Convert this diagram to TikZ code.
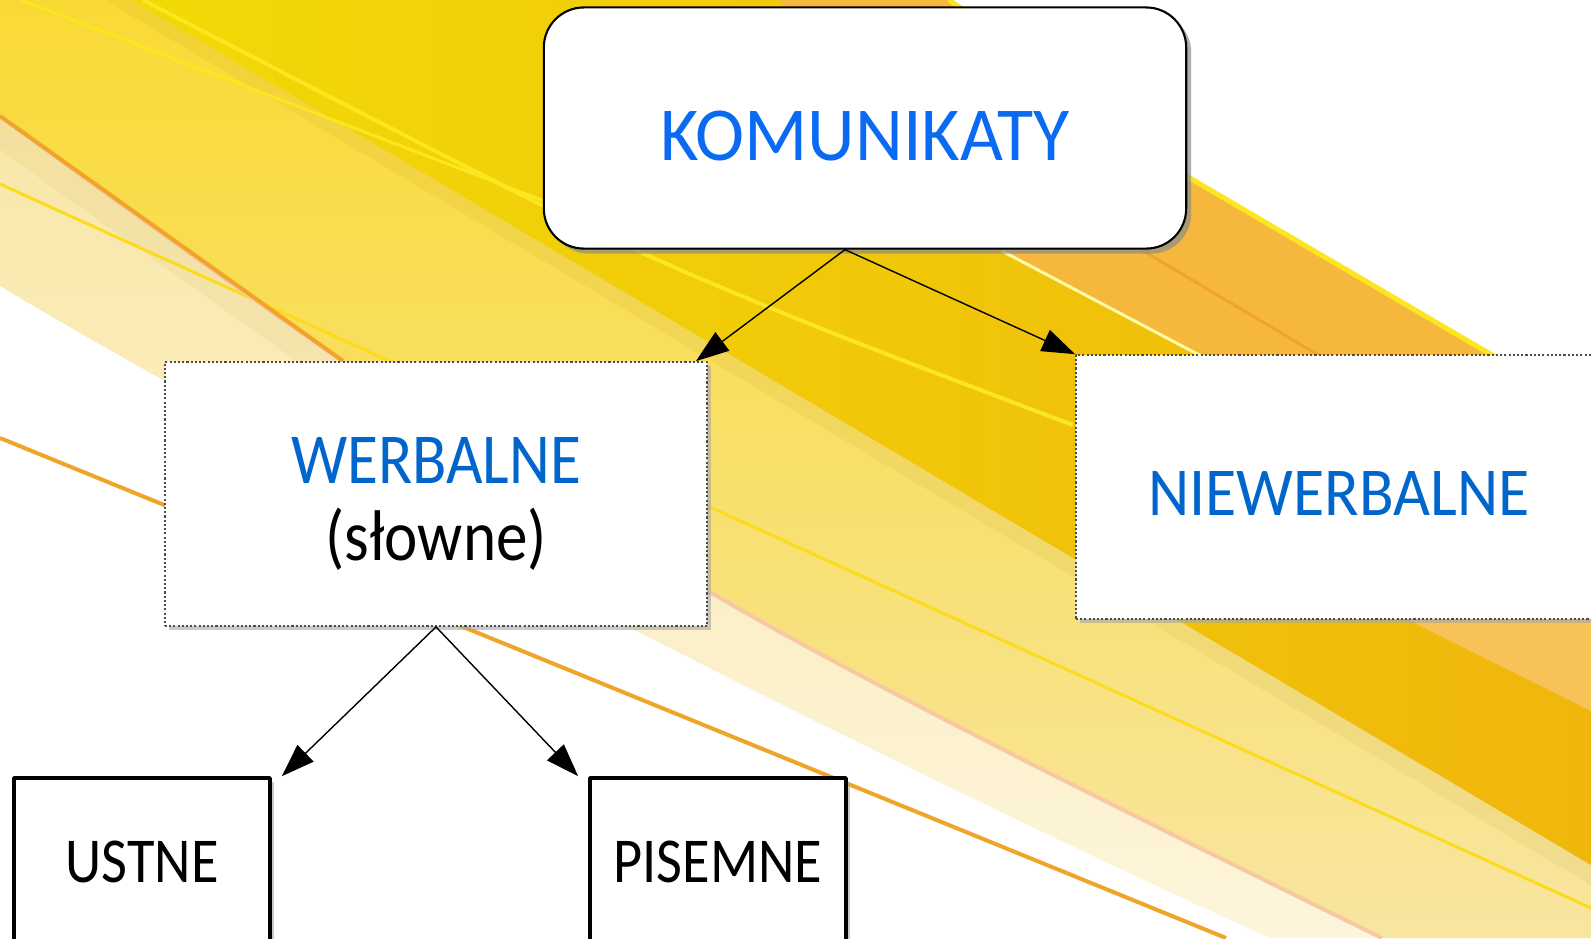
\documentclass[tikz,border=0pt]{standalone}
\usepackage{fontspec}
\newfontfamily\slidefont{Carlito}[FakeStretch=0.88]
\newfontfamily\rootfont{Carlito}[FakeStretch=0.97]
\newfontfamily\widefont{Carlito}[FakeStretch=0.93]
\usepackage{xcolor}
\usetikzlibrary{arrows.meta,shadows}

\definecolor{lemon}{HTML}{F1DA06}
\definecolor{sunny}{HTML}{F9DA34}
\definecolor{paleyel}{HTML}{F8E5A0}
\definecolor{cream}{HTML}{FDF5DC}
\definecolor{gold}{HTML}{F0B60C}
\definecolor{amber}{HTML}{F5B83C}
\definecolor{edgeorange}{HTML}{F0A42A}
\definecolor{peach}{HTML}{F7C8A2}
\definecolor{glint}{HTML}{FBE620}
\definecolor{foldshade}{HTML}{A07810}
\definecolor{rootblue}{HTML}{0A6AF2}
\definecolor{catblue}{HTML}{0066CC}

\begin{document}
\begin{tikzpicture}[
    x=0.01cm,
    y=-0.01cm,
    >={Triangle[length=3.3mm,width=2.3mm]},
    line join=round,
    font=\slidefont,
    rootbox/.style={draw=black, line width=0.6pt, fill=white, rounded corners=0.4cm, minimum width=6.42cm, minimum height=2.41cm, inner sep=0pt, text=rootblue, font=\rootfont\fontsize{21.7}{26}\selectfont, drop shadow={shadow xshift=0.5mm, shadow yshift=-0.5mm, fill=black!45, opacity=0.7}},
    catbox/.style={draw=black!70, line width=0.45pt, dash pattern=on 0.6pt off 0.6pt, fill=white, minimum height=2.64cm, inner sep=0pt, align=center, font=\slidefont\fontsize{20.4}{22}\selectfont, drop shadow={shadow xshift=0.4mm, shadow yshift=-0.4mm, fill=black!35, opacity=0.6}},
    leafbox/.style={draw=black, line width=1pt, fill=white, minimum width=2.56cm, minimum height=1.68cm, inner sep=0pt, font=\slidefont\fontsize{18.2}{22}\selectfont, drop shadow={shadow xshift=0.4mm, shadow yshift=-0.4mm, fill=black!35, opacity=0.6}},
    link/.style={->, draw=black, line width=0.4pt},
    streak/.style={line width=#1, line cap=butt},
  ]

  \def\catY{494}
  \def\leafY{862}

  \path[use as bounding box, clip] (0,0) rectangle (1591,938);

  % Background swoosh, painted from the pale fan upwards
  \fill[white] (0,0) rectangle (1591,938);
  \shade[top color=paleyel, bottom color=cream] (0,0) -- (0,286) .. controls (300,466) and (900,771) .. (1270,938) -- (1591,938) -- (1591,0) -- cycle;
  \shade[top color=sunny, bottom color=paleyel] (0,0) -- plot[smooth] coordinates {(0,116) (343,361) (710,592) (1000,748) (1382,938)} -- (1591,938) -- (1591,0) -- cycle;
  \fill[foldshade, opacity=0.06] (0,116) -- (343,361) -- (330,385) -- (0,150) -- cycle;
  \shade[left color=lemon, right color=gold] (132,0) -- (1591,865) -- (1591,0) -- cycle;
  \fill[foldshade, opacity=0.07] (132,0) -- (1591,865) -- (1591,885) -- (105,0) -- cycle;
  \fill[amber] (780,0) -- (1002,251) -- (1591,563) -- (1591,0) -- cycle;
  \fill[amber!85!white] (1300,566) -- (1591,711) -- (1591,480) -- cycle;

  % White sky above the top edge
  \fill[white] (949,0) .. controls (1080,90) .. (1188,177) -- (1591,413) -- (1591,0) -- cycle;
  \draw[glint, streak=0.05cm] (949,0) .. controls (1080,90) .. (1188,177) -- (1591,413);

  % Streaks
  \draw[yellow!35!white, streak=0.03cm] (1002,251) -- (1220,366);
  \draw[edgeorange, streak=0.03cm] (1125,240) -- (1330,362);
  \draw[glint, streak=0.03cm] (21,0) -- (560,207);
  \draw[glint, streak=0.04cm] plot[smooth] coordinates {(143,0) (568,218) (800,320) (1073,425)};
  \draw[glint!90!orange, streak=0.03cm] (0,184) -- (1591,908);
  \draw[peach, streak=0.04cm] plot[smooth] coordinates {(0,116) (343,361) (710,592) (1000,748) (1382,938)};
  \draw[edgeorange, streak=0.04cm] (0,116) -- (343,361);
  \draw[edgeorange, streak=0.04cm] (0,438) -- (1226,938);

  % Boxes
  \node[rootbox, text height=0.65cm, text depth=0cm] (kom) at (865,128) {KOMUNIKATY};
  \node[catbox, minimum width=5.42cm] (werb) at (436,\catY) {\rule{0pt}{0.66cm}\textcolor{catblue}{WERBALNE}\\(słowne)};
  \node[catbox, minimum width=5.26cm, text=catblue, text height=0.56cm, text depth=0cm, font=\widefont\fontsize{19.5}{22}\selectfont] (niew) at (1339,487) {NIEWERBALNE};
  \node[leafbox] (ustne) at (142,\leafY) {USTNE};
  \node[leafbox] (pisemne) at (718,\leafY) {PISEMNE};

  % Arrows
  \draw[link] ([xshift=-0.2cm]kom.south) -- ([xshift=-0.12cm]werb.north east);
  \draw[link] ([xshift=-0.2cm]kom.south) -- (niew.north west);
  \draw[link] (werb.south) -- ([xshift=0.1cm]ustne.north east);
  \draw[link] (werb.south) -- ([xshift=-0.1cm]pisemne.north west);
\end{tikzpicture}
\end{document}
